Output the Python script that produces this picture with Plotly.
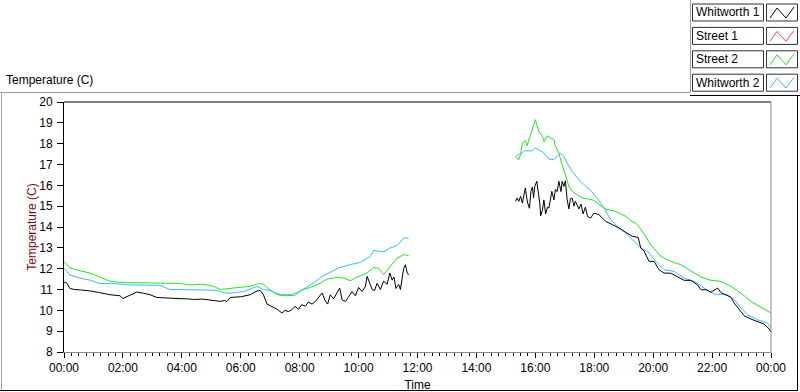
import plotly.graph_objects as go

# ---------------- data (hours since midnight, temperature in C) ----------------
series_names = ["Whitworth 1", "Street 1", "Street 2", "Whitworth 2"]
series_colors = ["#000000", "#ff4a4a", "#1ee81e", "#3cb6ff"]

whit1_t = [0.0, 0.1, 0.2, 0.35, 0.55, 0.9, 1.2, 1.56, 1.9, 2.0, 2.2, 2.47, 2.7, 2.92, 3.15, 3.4, 3.6, 3.94,
           4.2, 4.4, 4.7, 4.96, 5.3, 5.45, 5.53, 5.65, 6.0, 6.32, 6.55, 6.66, 6.77, 6.89, 7.06, 7.23, 7.4,
           7.5, 7.62, 7.73, 7.84, 7.96, 8.07, 8.19, 8.3, 8.42, 8.53, 8.64, 8.76, 8.87, 8.95, 9.04, 9.15,
           9.27, 9.36, 9.44, 9.55, 9.66, 9.78, 9.89, 10.0, 10.12, 10.23, 10.29, 10.38, 10.46, 10.54, 10.63,
           10.74, 10.85, 10.97, 11.06, 11.14, 11.2, 11.27, 11.36, 11.42, 11.47, 11.53, 11.59, 11.65, 11.7,
           None,
           15.33, 15.38, 15.44, 15.5, 15.56, 15.61, 15.66, 15.73, 15.8, 15.85, 15.9, 15.94, 15.98, 16.05,
           16.12, 16.15, 16.18, 16.24, 16.29, 16.35, 16.41, 16.46, 16.56, 16.63, 16.68, 16.74, 16.8, 16.87,
           16.91, 16.97, 17.02, 17.08, 17.14, 17.19, 17.25, 17.31, 17.36, 17.48, 17.55, 17.62, 17.7, 17.77,
           17.88, 17.99, 18.16, 18.39, 18.62, 18.84, 19.07, 19.3, 19.49, 19.58, 19.69, 19.86, 20.03, 20.2,
           20.37, 20.6, 20.83, 21.05, 21.28, 21.5, 21.62, 21.79, 21.96, 22.13, 22.19, 22.3, 22.47, 22.64,
           22.75, 22.92, 23.09, 23.32, 23.54, 23.77, 23.94, 24.0]
whit1_v = [11.36, 11.3, 11.05, 11.0, 10.98, 10.93, 10.85, 10.75, 10.7, 10.57, 10.7, 10.88, 10.82, 10.75, 10.62,
           10.6, 10.56, 10.56, 10.55, 10.52, 10.54, 10.5, 10.43, 10.47, 10.42, 10.62, 10.65, 10.75, 10.93,
           10.95, 10.75, 10.3, 10.19, 10.06, 9.87, 10.0, 9.94, 10.02, 10.19, 10.05, 10.27, 10.2, 10.4, 10.3,
           10.42, 10.6, 10.83, 10.45, 10.3, 10.75, 10.55, 10.85, 11.07, 10.5, 10.43, 10.65, 10.9, 10.7, 11.1,
           10.9, 11.15, 11.63, 11.3, 11.0, 10.95, 11.3, 11.0, 11.4, 11.25, 11.79, 11.45, 11.6, 11.05, 11.25,
           11.0, 11.5, 12.0, 12.19, 11.8, 11.7,
           None,
           15.23, 15.39, 15.23, 15.47, 15.15, 15.63, 15.87, 15.2, 14.9, 15.7, 15.92, 15.4, 15.95, 16.19,
           15.47, 15.15, 14.54, 14.8, 15.3, 14.63, 14.95, 14.91, 15.71, 15.3, 15.8, 15.7, 16.19, 15.7, 16.19,
           15.95, 16.22, 15.31, 14.87, 15.35, 15.39, 15.0, 15.23, 14.87, 15.1, 14.63, 14.95, 14.51, 14.43,
           14.67, 14.59, 14.27, 14.11, 13.95, 13.74, 13.55, 13.5, 12.99, 12.85, 12.35, 12.35, 11.95, 11.79,
           11.78, 11.61, 11.44, 11.44, 11.23, 10.99, 10.99, 10.87, 10.99, 11.07, 10.85, 10.73, 10.63, 10.35,
           10.03, 9.74, 9.58, 9.47, 9.34, 9.1, 8.96]

street1_t = []
street1_v = []

street2_t = [0.0, 0.2, 0.54, 0.88, 1.22, 1.56, 1.9, 2.5, 3.26, 3.94, 4.28, 4.62, 4.96, 5.08, 5.3, 5.5, 5.75,
             6.09, 6.32, 6.6, 6.77, 6.85, 7.0, 7.23, 7.5, 7.84, 8.07, 8.36, 8.64, 8.93, 9.27, 9.5, 9.72, 9.95,
             10.29, 10.51, 10.68, 10.85, 11.02, 11.2, 11.3, 11.53, 11.7,
             None,
             15.33, 15.44, 15.5, 15.56, 15.66, 15.72, 15.84, 15.95, 16.0, 16.12, 16.24, 16.3, 16.41, 16.51,
             16.63, 16.68, 16.8, 16.91, 17.02, 17.14, 17.25, 17.6, 17.94, 18.16, 18.39, 18.73, 19.07, 19.24,
             19.41, 19.58, 19.92, 20.26, 20.6, 20.94, 21.28, 21.62, 21.96, 22.3, 22.64, 22.98, 23.32, 23.66,
             24.0]
street2_v = [12.35, 12.03, 11.9, 11.79, 11.6, 11.4, 11.34, 11.32, 11.31, 11.29, 11.22, 11.25, 11.2, 11.15,
             11.0, 11.04, 11.07, 11.12, 11.15, 11.28, 11.26, 11.15, 10.97, 10.75, 10.7, 10.72, 10.97, 11.1,
             11.26, 11.5, 11.58, 11.55, 11.42, 11.6, 11.79, 12.05, 12.02, 11.71, 12.0, 12.35, 12.5, 12.67,
             12.63,
             None,
             17.34, 17.23, 17.5, 18.03, 18.15, 17.9, 18.43, 18.91, 19.15, 18.59, 18.35, 18.1, 18.38, 18.28,
             18.2, 17.87, 17.55, 16.99, 16.43, 15.95, 15.71, 15.39, 15.31, 15.07, 14.86, 14.75, 14.51, 14.3,
             14.19, 13.9, 13.15, 12.59, 12.35, 12.19, 11.9, 11.6, 11.44, 11.39, 11.15, 10.83, 10.43, 10.16,
             9.87]

whit2_t = [0.0, 0.2, 0.54, 0.88, 1.22, 1.56, 2.24, 3.26, 3.6, 4.4, 5.08, 5.3, 5.53, 5.65, 6.09, 6.55, 6.77,
           7.0, 7.34, 7.68, 7.9, 8.19, 8.47, 8.76, 9.04, 9.32, 9.72, 10.06, 10.4, 10.51, 10.85, 11.08, 11.3,
           11.53, 11.7,
           None,
           15.33, 15.5, 15.66, 15.9, 16.0, 16.12, 16.29, 16.46, 16.63, 16.74, 16.85, 16.97, 17.08, 17.25,
           17.43, 17.65, 17.88, 18.1, 18.33, 18.56, 18.78, 19.01, 19.24, 19.58, 19.81, 20.09, 20.37, 20.71,
           21.05, 21.39, 21.73, 22.07, 22.52, 22.75, 22.98, 23.2, 23.54, 23.88, 24.0]
whit2_v = [12.02, 11.7, 11.55, 11.45, 11.28, 11.3, 11.22, 11.2, 11.0, 11.0, 10.97, 10.91, 10.82, 10.83,
           10.9, 11.15, 11.0, 10.95, 10.75, 10.75, 10.85, 11.07, 11.31, 11.63, 11.85, 12.03, 12.2, 12.3,
           12.59, 12.88, 12.8, 13.0, 13.1, 13.47, 13.47,
           None,
           17.39, 17.55, 17.66, 17.66, 17.79, 17.7, 17.55, 17.26, 17.23, 17.39, 17.55, 17.39, 17.07, 16.67,
           16.35, 16.03, 15.76, 15.39, 14.91, 14.35, 14.03, 13.79, 13.47, 12.99, 12.83, 12.35, 11.95, 11.87,
           11.55, 11.39, 11.07, 10.78, 10.75, 10.51, 10.11, 9.79, 9.55, 9.39, 9.16]

x_tick_vals = [0, 2, 4, 6, 8, 10, 12, 14, 16, 18, 20, 22, 24]
x_tick_text = ["00:00", "02:00", "04:00", "06:00", "08:00", "10:00", "12:00",
               "14:00", "16:00", "18:00", "20:00", "22:00", "00:00"]

# ---------------- figure ----------------
FONT = "Liberation Sans"
W, H = 800, 392
PL, PR, PT, PB = 64, 771, 102, 352


def px(x):
    return (x - PL) / (PR - PL)


def py(y):
    return (PB - y) / (PB - PT)


fig = go.Figure()
all_t = [whit1_t, street1_t, street2_t, whit2_t]
all_v = [whit1_v, street1_v, street2_v, whit2_v]
# draw order: Whitworth 2 (blue), Street 2 (green), Street 1, Whitworth 1 (black) on top
for i in [3, 2, 1, 0]:
    fig.add_trace(go.Scatter(x=all_t[i], y=all_v[i], mode="lines", name=series_names[i],
                             line=dict(color=series_colors[i], width=1), connectgaps=False,
                             showlegend=False, hoverinfo="skip"))

shapes = []
annotations = []


def line(x0, y0, x1, y1, color, width=1):
    shapes.append(dict(type="line", xref="paper", yref="paper", x0=px(x0), y0=py(y0),
                       x1=px(x1), y1=py(y1), line=dict(color=color, width=width), layer="above"))


# outer panel frame
line(0, 92.5, 690, 92.5, "#a0a0a0")
line(1.5, 92.5, 1.5, 390, "#a0a0a0")
line(0, 390.5, 797, 390.5, "#000000")
line(797.5, 95, 797.5, 391, "#000000")
line(690.5, 0, 690.5, 92.5, "#a0a0a0")
line(690, 95.5, 800, 95.5, "#000000")
# plot-area border: top black, right grey
line(PL, PT, PR, PT, "#000000")
line(PR, PT, PR, PB, "#8c8c8c")

# top-left caption
annotations.append(dict(text="Temperature (C)", xref="paper", yref="paper", x=px(4), y=py(80),
                        xanchor="left", yanchor="middle", showarrow=False,
                        font=dict(family=FONT, size=12, color="#000000")))

# custom legend
for i, name in enumerate(series_names):
    top = 4 + 23.4 * i
    bot = top + 17
    shapes.append(dict(type="rect", xref="paper", yref="paper", x0=px(692.5), x1=px(763.5),
                       y0=py(bot), y1=py(top), line=dict(color="#303030", width=1),
                       fillcolor="#ffffff", layer="above"))
    shapes.append(dict(type="rect", xref="paper", yref="paper", x0=px(766.5), x1=px(797.5),
                       y0=py(bot), y1=py(top), line=dict(color="#303030", width=1),
                       fillcolor="#ffffff", layer="above"))
    pts = [(770, bot - 3), (777, top + 4), (786, bot - 3), (794, top + 3)]
    path = "M " + " L ".join(f"{px(a)},{py(b)}" for a, b in pts)
    shapes.append(dict(type="path", xref="paper", yref="paper", path=path,
                       line=dict(color=series_colors[i], width=1), layer="above"))
    annotations.append(dict(text=name, xref="paper", yref="paper", x=px(694), y=py((top + bot) / 2),
                            xanchor="left", yanchor="middle", showarrow=False,
                            font=dict(family=FONT, size=12, color="#000000")))

fig.update_layout(
    width=W, height=H,
    margin=dict(l=PL, r=W - PR, t=PT, b=H - PB, pad=0, autoexpand=False),
    paper_bgcolor="#ffffff", plot_bgcolor="#ffffff",
    font=dict(family=FONT, size=12, color="#000000"),
    showlegend=False, hovermode=False,
    shapes=shapes, annotations=annotations,
    xaxis=dict(range=[0, 24], tickmode="array", tickvals=x_tick_vals, ticktext=x_tick_text,
               automargin=False,
               ticks="outside", ticklen=5, tickcolor="#000000", tickwidth=1, ticklabelstandoff=0,
               minor=dict(dtick=0.25, tick0=0, ticks="outside", ticklen=3, tickcolor="#000000"),
               showline=True, linecolor="#8c8c8c", linewidth=1, showgrid=False, zeroline=False,
               tickfont=dict(family=FONT, size=12, color="#000000"),
               title=dict(text="Time", standoff=6, font=dict(family=FONT, size=12, color="#000000"))),
    yaxis=dict(range=[8, 20], dtick=1, tick0=8, ticks="outside", ticklen=6, tickcolor="#000000",
               automargin=False, ticklabelstandoff=2,
               showline=True, linecolor="#000000", linewidth=1, showgrid=False, zeroline=False,
               tickfont=dict(family=FONT, size=12, color="#000000"),
               title=dict(text="Temperature (C)", standoff=0,
                          font=dict(family=FONT, size=12, color="#7a1010"))),
)

fig.write_html("out.html", config={"displayModeBar": False, "staticPlot": True},
               post_script="document.body.style.margin='0';document.body.style.overflow='hidden';")
